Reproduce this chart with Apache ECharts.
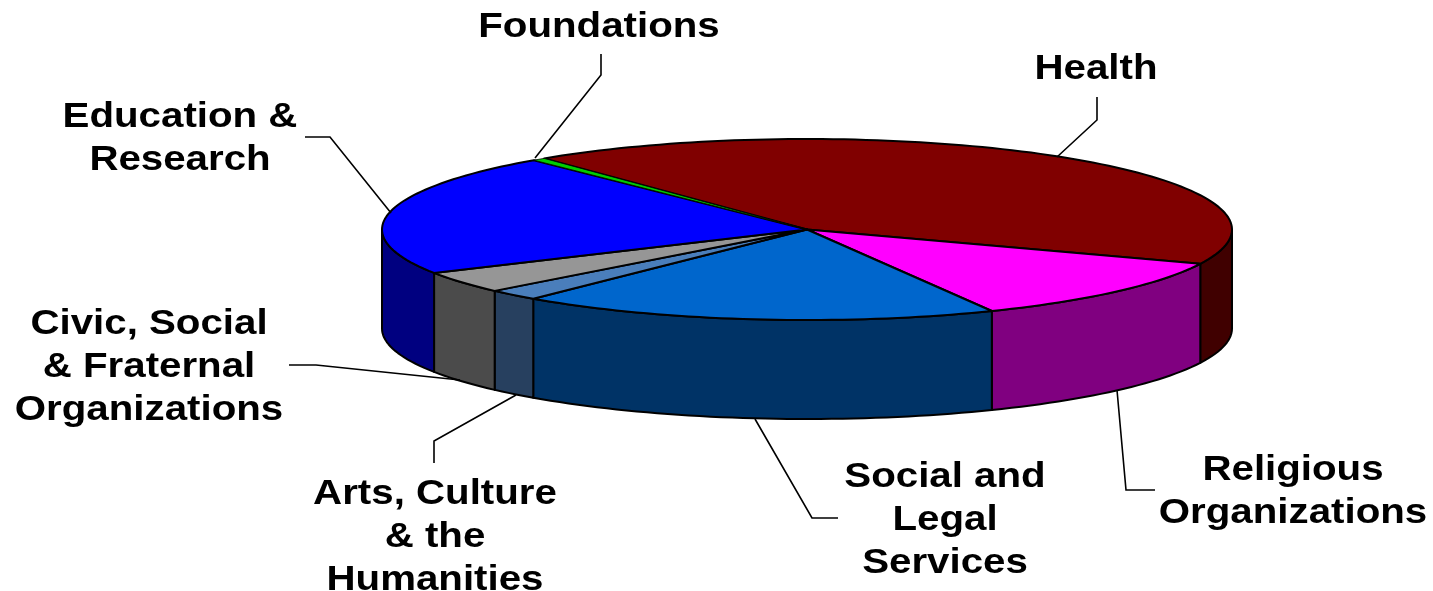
<!DOCTYPE html>
<html>
<head>
<meta charset="utf-8">
<style>html,body{margin:0;padding:0;background:#fff}#chart{width:1433px;height:591px}</style>
<script src="https://cdn.jsdelivr.net/npm/echarts@6/dist/echarts.min.js"></script>
</head>
<body>
<div id="chart"></div>
<script>
// Data: share of total, in percent, clockwise from the Health slice
const categories = ['Health', 'Religious\nOrganizations', 'Social and\nLegal\nServices', 'Arts, Culture\n& the\nHumanities', 'Civic, Social\n& Fraternal\nOrganizations', 'Education &\nResearch', 'Foundations'];
const shares = [41.8, 11.65, 18.3, 2.0, 3.9, 21.85, 0.5];

// Styles
const topColors = ['#800000', '#FF00FF', '#0066CC', '#4A7EBB', '#969696', '#0000FF', '#00CC00'];
const wallColors = ['#400000', '#800080', '#003366', '#27405F', '#4B4B4B', '#000080', '#006600'];

// Layout of the pie and its annotations
const pie = { cx: 807, cy: 229.5, rx: 425, ry: 90.5, depth: 99, start: 321.8 };
const labelCenters = [[1096, 69], [1293, 492], [945, 520], [435, 537.5], [149, 367], [180, 139], [599, 27]];
const leaders = [
  [[1097, 97], [1097, 120], [1057, 157]],
  [[1155, 490], [1126, 490], [1117, 390]],
  [[838, 518], [812, 518], [755, 419]],
  [[434, 463], [434, 441], [516, 395]],
  [[289, 365], [316, 365], [460, 380]],
  [[305, 137], [330, 137], [391, 213]],
  [[601, 54], [601, 75], [535, 158]]
];

const total = shares.reduce((a, b) => a + b, 0);
function rimPoint(deg, dy) {
  const r = deg * Math.PI / 180;
  return [pie.cx + pie.rx * Math.sin(r), pie.cy - pie.ry * Math.cos(r) + (dy || 0)];
}
function arc(a0, a1, dy) {
  const n = Math.max(2, Math.ceil(Math.abs(a1 - a0) / 1.5));
  const pts = [];
  for (let i = 0; i <= n; i++) pts.push(rimPoint(a0 + (a1 - a0) * i / n, dy));
  return pts;
}
const lineStyle = { stroke: '#000', lineWidth: 2, lineJoin: 'round' };

function renderItem(params, api) {
  const i = params.dataIndex;
  let before = 0;
  for (let k = 0; k < i; k++) before += shares[k];
  const a0 = pie.start + before / total * 360;
  const a1 = a0 + api.value(0) / total * 360;
  const children = [];
  const thin = api.value(0) < 1;

  // outer wall: the part of the slice in the front half of the ellipse
  [90, 450].forEach(function (low) {
    const s = Math.max(a0, low), e = Math.min(a1, low + 180);
    if (e > s) {
      const pts = arc(s, e, 0).concat(arc(e, s, pie.depth));
      children.push({ type: 'polygon', shape: { points: pts },
        style: Object.assign({ fill: wallColors[i] }, lineStyle) });
    }
  });
  // top face (a very thin slice keeps a finer outline so its colour still shows)
  children.push({ type: 'polygon', shape: { points: [[pie.cx, pie.cy]].concat(arc(a0, a1, 0)) },
    style: Object.assign({ fill: topColors[i] }, lineStyle, thin ? { lineWidth: 0.8 } : {}), z2: 2 });
  // leader
  children.push({ type: 'polyline', shape: { points: leaders[i] },
    style: { stroke: '#000', lineWidth: 1.6, fill: null }, z2: 3 });
  // label
  children.push({ type: 'text', x: labelCenters[i][0], y: labelCenters[i][1], scaleX: 1.15, z2: 4,
    style: { x: 0, y: 0, text: categories[i], fill: '#000', align: 'center', verticalAlign: 'middle',
      font: 'bold 35px "Liberation Sans", Arial, sans-serif', lineHeight: 43 } });
  return { type: 'group', children: children };
}

const chart = echarts.init(document.getElementById('chart'), null, { renderer: 'canvas' });
chart.setOption({
  animation: false,
  backgroundColor: '#fff',
  series: [{ type: 'custom', coordinateSystem: 'none', silent: true, clip: false,
    renderItem: renderItem, data: shares.map(v => [v]) }]
});
</script>
</body>
</html>
